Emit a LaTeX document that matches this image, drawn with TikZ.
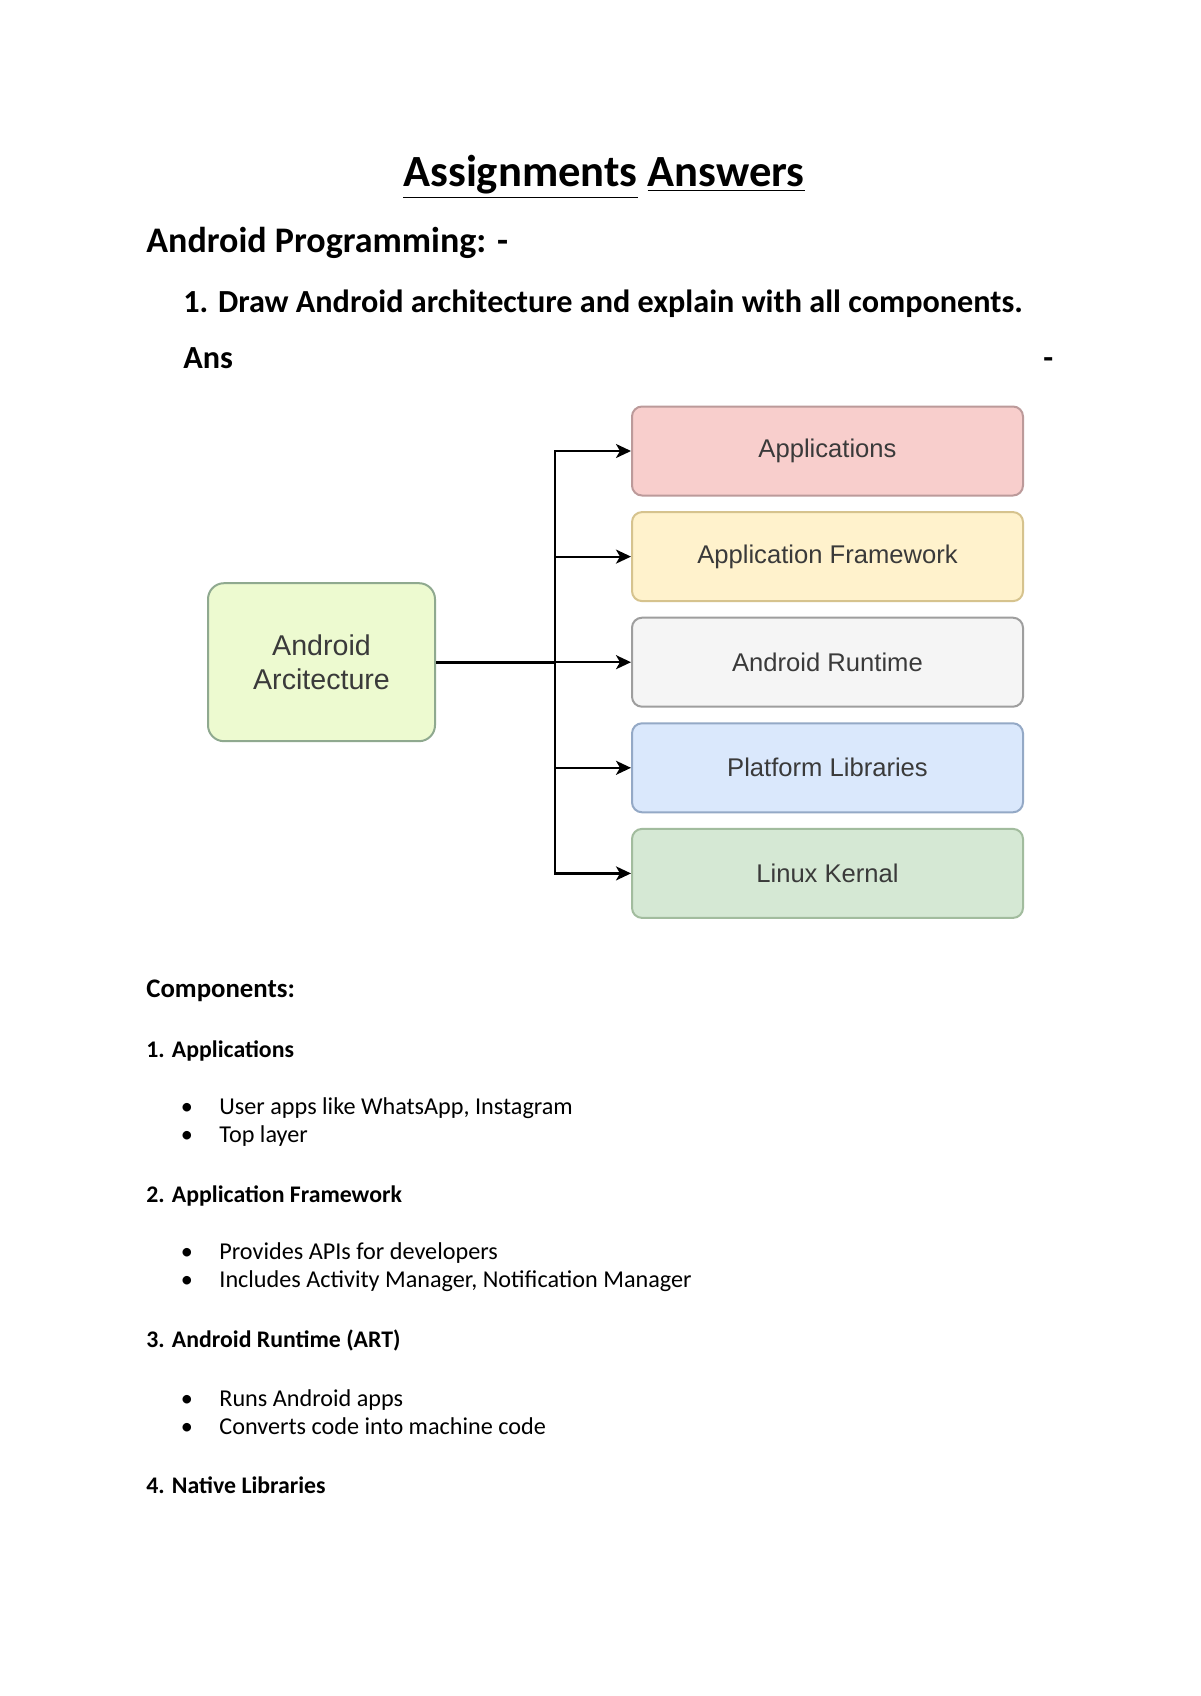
\documentclass[tikz,border=0pt]{standalone}
\usepackage{fontspec}
\setmainfont{Carlito}
\newfontfamily\diafont{Liberation Sans}
\usepackage{xcolor}
\usepackage{tikz}
\usetikzlibrary{arrows.meta,calc,positioning,shapes}

\definecolor{appfill}{HTML}{F8CECC}
\definecolor{appdraw}{HTML}{BC9A9A}
\definecolor{fwfill}{HTML}{FFF2CC}
\definecolor{fwdraw}{HTML}{D6C38E}
\definecolor{rtfill}{HTML}{F5F5F5}
\definecolor{rtdraw}{HTML}{9E9E9E}
\definecolor{plfill}{HTML}{DAE8FC}
\definecolor{pldraw}{HTML}{94A9C6}
\definecolor{krfill}{HTML}{D5E8D4}
\definecolor{krdraw}{HTML}{A2BC9E}
\definecolor{archfill}{HTML}{EDFAD0}
\definecolor{archdraw}{HTML}{8FA98F}
\definecolor{diatext}{HTML}{3A3A3A}

\tikzset{
    layer/.style={draw,line width=1pt,rounded corners=5pt,
                  minimum width=195.5pt,minimum height=44.5pt,inner sep=1pt,
                  font=\diafont\fontsize{12.8}{15}\selectfont,text=diatext},
    link/.style={line width=1.1pt,-{Stealth[length=7.5pt,width=7pt,inset=2pt]}},
    heading/.style={anchor=base west,inner sep=0pt,font=\bfseries\fontsize{11.9}{14}\selectfont},
    plain/.style={anchor=base west,inner sep=0pt,font=\fontsize{12.1}{14}\selectfont},
    dot/.style={anchor=base,inner sep=0pt,font=\fontsize{12.1}{14}\selectfont}
}

\begin{document}
\begin{tikzpicture}[x=0.5pt,y=-0.5pt]
        \useasboundingbox[fill=white] (0,0) rectangle (1200,1696);

        % page heading
        \node[anchor=base,inner sep=0pt,font=\bfseries\fontsize{22.3}{27}\selectfont] (title) at (604,187)
            {\underline{Assignments} \underline{Answers}};
        \node[anchor=base west,inner sep=0pt,font=\bfseries\fontsize{18}{21}\selectfont] (subject) at (146,252)
            {Android Programming: -};
        \node[anchor=base west,inner sep=0pt,font=\bfseries\fontsize{16.1}{19}\selectfont] (question) at (183,312)
            {1. Draw Android architecture and explain with all components.};
        \node[anchor=base west,inner sep=0pt,font=\bfseries\fontsize{16.1}{19}\selectfont] (ans) at (183,368) {Ans};
        \node[anchor=base west,inner sep=0pt,font=\bfseries\fontsize{16.1}{19}\selectfont] (ansdash) at (1043,368) {-};

        % diagram
        \node[layer,fill=appfill,draw=appdraw] (apps) at (827.5,451) {Applications};
        \node[layer,fill=fwfill,draw=fwdraw,below=7.3pt of apps] (framework) {Application Framework};
        \node[layer,fill=rtfill,draw=rtdraw,below=7.3pt of framework] (runtime) {Android Runtime};
        \node[layer,fill=plfill,draw=pldraw,below=7.3pt of runtime] (platform) {Platform Libraries};
        \node[layer,fill=krfill,draw=krdraw,below=7.3pt of platform] (kernel) {Linux Kernal};

        \node[draw=archdraw,fill=archfill,line width=1pt,rounded corners=8pt,
              minimum width=113.5pt,minimum height=79pt,align=center,
              font=\diafont\fontsize{14.3}{17}\selectfont,text=diatext,
              left=97.5pt of runtime] (arch) {Android\\Arcitecture};
        \coordinate[right=59.5pt of arch.east] (split);

        \draw[line width=1.6pt] (arch.east) -- (split);
        \draw[link] (split) |- (apps.west);
        \draw[link] (split) |- (framework.west);
        \draw[link] (split) -- (runtime.west);
        \draw[link] (split) |- (platform.west);
        \draw[link] (split) |- (kernel.west);

        % components
        \node[heading,font=\bfseries\fontsize{13.4}{16}\selectfont] (comps) at (146,997) {Components:};

        \node[heading] (h1) at (146,1057) {1. Applications};
        \node[dot] (d11) at (187,1114) {\textbullet};
        \node[plain] (b11) at (219,1114) {User apps like WhatsApp, Instagram};
        \node[dot] (d12) at (187,1142) {\textbullet};
        \node[plain] (b12) at (219,1142) {Top layer};

        \node[heading] (h2) at (146,1202) {2. Application Framework};
        \node[dot] (d21) at (187,1259) {\textbullet};
        \node[plain] (b21) at (219,1259) {Provides APIs for developers};
        \node[dot] (d22) at (187,1287) {\textbullet};
        \node[plain] (b22) at (219,1287) {Includes Activity Manager, Notification Manager};

        \node[heading] (h3) at (146,1347) {3. Android Runtime (ART)};
        \node[dot] (d31) at (187,1406) {\textbullet};
        \node[plain] (b31) at (219,1406) {Runs Android apps};
        \node[dot] (d32) at (187,1434) {\textbullet};
        \node[plain] (b32) at (219,1434) {Converts code into machine code};

        \node[heading] (h4) at (146,1493) {4. Native Libraries};
    \end{tikzpicture}
\end{document}
